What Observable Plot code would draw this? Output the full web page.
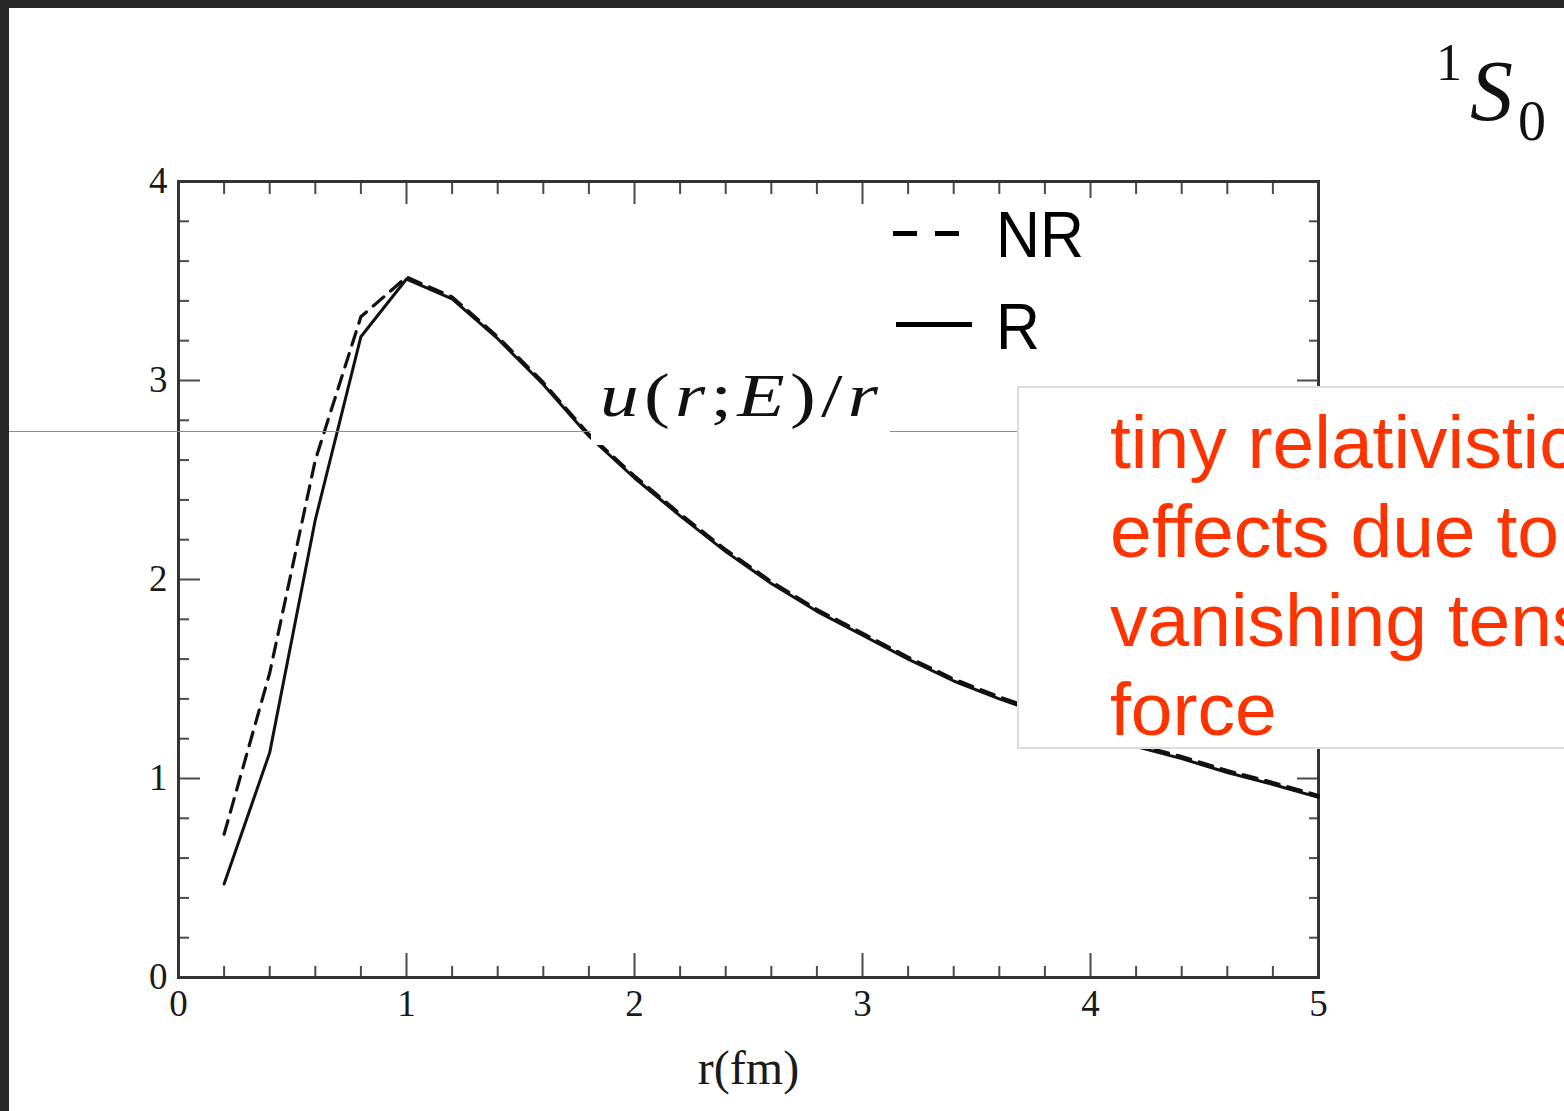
<!DOCTYPE html>
<html>
<head>
<meta charset="utf-8">
<script src="https://cdn.jsdelivr.net/npm/d3@7"></script>
<script src="https://cdn.jsdelivr.net/npm/@observablehq/plot@0.6"></script>
<style>
  html, body { margin: 0; padding: 0; background: #262626; overflow: hidden; }
  #stage { position: relative; width: 1564px; height: 1111px; overflow: hidden; }
  #paper { position: absolute; left: 9px; top: 8px; right: 0; bottom: 0; background: #ffffff; }
  #chart { position: absolute; left: 0; top: 0; }
  .abs { position: absolute; white-space: pre; line-height: 1; }
  .serif { font-family: "Liberation Serif", "Times New Roman", serif; color: #111; }
  .sans { font-family: "Liberation Sans", Arial, Helvetica, sans-serif; }
</style>
</head>
<body>
<div id="stage">
  <div id="paper"></div>
  <div id="chart"></div>
  <!-- slide decoration: thin horizontal rule -->
  <div class="abs" style="left:9px; top:431px; width:1010px; height:1px; background:#8c8c8c;"></div>
  <!-- equation label -->
  <div class="abs" style="left:591px; top:342px; width:299px; height:103px; background:#ffffff;"></div>
  <div id="eq" class="abs serif" style="left:600px; top:364px; font-size:62px; transform-origin:0 0;"><i>u</i>(<i>r</i>;<i>E</i>)/<i>r</i></div>
  <!-- legend -->
  <div class="abs" style="left:891px; top:198px; width:325px; height:174px; background:#ffffff;"></div>
  <div class="abs" style="left:893px; top:231px; width:24px; height:5px; background:#000;"></div>
  <div class="abs" style="left:935px; top:231px; width:24px; height:5px; background:#000;"></div>
  <div id="lgNR" class="abs sans" style="left:996px; top:203px; font-size:64px; color:#000; transform-origin:0 0; transform:scaleX(0.95);"></div>
  <div class="abs" style="left:896px; top:322px; width:76px; height:5px; background:#000;"></div>
  <div id="lgR" class="abs sans" style="left:996px; top:295px; font-size:64px; color:#000; transform-origin:0 0; transform:scaleX(0.95);"></div>
  <!-- annotation box -->
  <div class="abs" style="left:1017px; top:386px; width:600px; height:359px; background:#ffffff; border:2px solid #dcdcdc;"></div>
  <div id="note" class="abs sans" style="left:1110px; top:398px; font-size:75px; line-height:89px; color:#ff3300;"></div>
  <!-- state label 1S0 -->
  <div class="abs serif" style="left:1436px; top:37px; font-size:52px;">1</div>
  <div class="abs serif" style="left:1470px; top:48px; font-size:86px;"><i>S</i></div>
  <div class="abs serif" style="left:1518px; top:93px; font-size:56px;">0</div>
</div>
<script>
// ---- data ----
const rValues  = [0.2, 0.4, 0.6, 0.8, 1.0, 1.2, 1.4, 1.6, 1.8, 2.0, 2.2, 2.4, 2.6, 2.8, 3.0, 3.2, 3.4, 3.6, 3.8, 4.0, 4.2, 4.4, 4.6, 4.8, 5.0];
const uR       = [0.47, 1.13, 2.30, 3.22, 3.51, 3.41, 3.21, 2.98, 2.72, 2.51, 2.32, 2.14, 1.98, 1.84, 1.72, 1.60, 1.49, 1.40, 1.32, 1.24, 1.16, 1.10, 1.03, 0.97, 0.905];
const uNR      = [0.72, 1.53, 2.60, 3.32, 3.52, 3.42, 3.22, 2.99, 2.73, 2.52, 2.33, 2.15, 1.99, 1.85, 1.73, 1.61, 1.50, 1.41, 1.33, 1.25, 1.17, 1.11, 1.04, 0.98, 0.915];
const seriesNames = ["NR", "R"];
const xMajorTicks = [0, 1, 2, 3, 4, 5];
const xMinorTicks = [0.2, 0.4, 0.6, 0.8, 1.2, 1.4, 1.6, 1.8, 2.2, 2.4, 2.6, 2.8, 3.2, 3.4, 3.6, 3.8, 4.2, 4.4, 4.6, 4.8];
const yMajorTicks = [0, 1, 2, 3, 4];
const yMinorTicks = [0.2, 0.4, 0.6, 0.8, 1.2, 1.4, 1.6, 1.8, 2.2, 2.4, 2.6, 2.8, 3.2, 3.4, 3.6, 3.8];
const xLabel = "r(fm)";
const noteLines = ["tiny relativistic", "effects due to", "vanishing tensor", "force"];

const nrData = rValues.map((r, i) => ({r, u: uNR[i], series: seriesNames[0]}));
const rData  = rValues.map((r, i) => ({r, u: uR[i],  series: seriesNames[1]}));

const tickStyle = {stroke: "#4a4a4a", strokeWidth: 2, fill: "none", label: null};

const plot = Plot.plot({
  width: 1564,
  height: 1111,
  marginLeft: 178,
  marginRight: 246,
  marginTop: 181,
  marginBottom: 134,
  x: {domain: [0, 5]},
  y: {domain: [0, 4]},
  style: {fontFamily: "'Liberation Serif', 'Times New Roman', serif", fontSize: "37px", color: "#1a1a1a", background: "transparent", overflow: "visible"},
  marks: [
    // tick labels
    Plot.axisX({anchor: "bottom", ticks: xMajorTicks, tickSize: 0, tickPadding: 12, tickFormat: d => String(d), label: null, fontSize: 37}),
    Plot.axisY({anchor: "left", ticks: yMajorTicks, tickSize: 0, tickPadding: 11, tickFormat: d => String(d), label: null, fontSize: 37}),
    // x-axis title
    Plot.axisX({anchor: "bottom", ticks: [], tickSize: 0, label: xLabel, labelAnchor: "center", labelArrow: "none", labelOffset: 106, fontSize: 48}),
    // inward ticks, all four sides
    Plot.axisX({anchor: "bottom", ticks: xMajorTicks, tickSize: -24, ...tickStyle}),
    Plot.axisX({anchor: "bottom", ticks: xMinorTicks, tickSize: -11, ...tickStyle}),
    Plot.axisX({anchor: "top", ticks: xMajorTicks, tickSize: -22, ...tickStyle}),
    Plot.axisX({anchor: "top", ticks: xMinorTicks, tickSize: -12, ...tickStyle}),
    Plot.axisY({anchor: "left", ticks: yMajorTicks, tickSize: -22, ...tickStyle}),
    Plot.axisY({anchor: "left", ticks: yMinorTicks, tickSize: -11, ...tickStyle}),
    Plot.axisY({anchor: "right", ticks: yMajorTicks, tickSize: -22, ...tickStyle}),
    Plot.axisY({anchor: "right", ticks: yMinorTicks, tickSize: -10, ...tickStyle}),
    Plot.frame({stroke: "#333", strokeWidth: 3}),
    // curves
    Plot.line(nrData, {x: "r", y: "u", stroke: "#111", strokeWidth: 3.2, strokeDasharray: "14,9"}),
    Plot.line(rData,  {x: "r", y: "u", stroke: "#111", strokeWidth: 3})
  ]
});
document.getElementById("chart").appendChild(plot);

document.getElementById("lgNR").textContent = seriesNames[0];
document.getElementById("lgR").textContent = seriesNames[1];
document.getElementById("note").textContent = noteLines.join("\n");

// widen the equation label to the reference width (stretch + spacing)
const eq = document.getElementById("eq");
const w = eq.getBoundingClientRect().width;
const s = 1.25;
if (w > 0) {
  eq.style.letterSpacing = `${Math.max(0, (278 / s - w) / 7)}px`;
  eq.style.transform = `scaleX(${s})`;
}
</script>
</body>
</html>
